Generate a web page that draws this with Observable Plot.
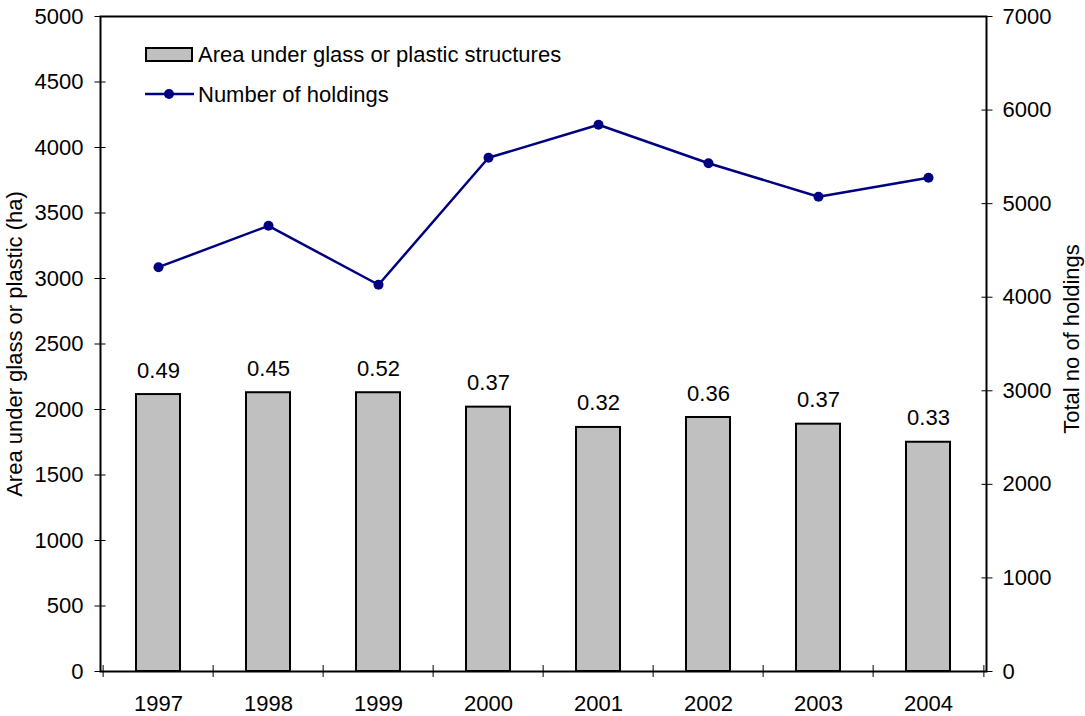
<!DOCTYPE html>
<html><head><meta charset="utf-8">
<script src="https://cdn.jsdelivr.net/npm/d3@7"></script>
<script src="https://cdn.jsdelivr.net/npm/@observablehq/plot@0.6"></script>
<style>
body{margin:0;background:#fff;font-family:"Liberation Sans",Arial,sans-serif;}
#wrap{position:relative;width:1085px;height:716px;}
.lg{position:absolute;font-size:22px;line-height:22px;height:22px;white-space:nowrap;color:#000;}
</style></head><body><div id="wrap"></div>
<script>
const years = ["1997","1998","1999","2000","2001","2002","2003","2004"];
const areaHa = [2114,2128,2128,2018,1863,1939,1888,1750];
const holdings = [4321,4763,4133,5490,5843,5432,5073,5276];
const ratioLabels = ["0.49","0.45","0.52","0.37","0.32","0.36","0.37","0.33"];
const leftTicks = [0,500,1000,1500,2000,2500,3000,3500,4000,4500,5000];
const rightTicks = [0,1000,2000,3000,4000,5000,6000,7000];
const leftMax = 5000, rightMax = 7000;
const barLabel = "Area under glass or plastic structures";
const lineLabel = "Number of holdings";
const leftTitle = "Area under glass or plastic (ha)";
const rightTitle = "Total no of holdings";

const rows = years.map((y,i)=>({year:y, area:areaHa[i], scaled:holdings[i]*leftMax/rightMax, ratio:ratioLabels[i]}));
const W=1085,H=716,mL=100,mR=99,mT=16,mB=45;
const step=(W-mL-mR)/years.length;
const font = "Liberation Sans, Arial, sans-serif";
const fs = 22;

const chart = Plot.plot({
  width:W,height:H,marginLeft:mL,marginRight:mR,marginTop:mT,marginBottom:mB,
  style:{fontFamily:font,fontSize:fs+"px",background:"#fff",color:"#000",overflow:"visible"},
  x:{type:"band",domain:years,padding:0},
  y:{domain:[0,leftMax]},
  marks:[
    Plot.barY(rows,{x:"year",y:"area",fill:"#c0c0c0",stroke:"#000",strokeWidth:2,insetLeft:33,insetRight:33}),
    Plot.frame({stroke:"#000",strokeWidth:2}),
    Plot.axisY(leftTicks,{anchor:"left",tickSize:11,dx:5.5,tickPadding:11.5,tickFormat:d=>String(d),label:null,fontSize:fs}),
    Plot.axisY(rightTicks.map(v=>v*leftMax/rightMax),{anchor:"right",tickSize:11,dx:-5.5,tickPadding:10.5,tickFormat:d=>String(Math.round(d*rightMax/leftMax)),label:null,fontSize:fs}),
    Plot.axisX(years,{anchor:"bottom",tickSize:12,dy:-6,dx:-step/2,fill:"none",label:null}),
    Plot.axisX([years[years.length-1]],{anchor:"bottom",tickSize:12,dy:-6,dx:step/2,fill:"none",label:null}),
    Plot.axisX(years,{anchor:"bottom",tickSize:0,tickPadding:24,label:null,fontSize:fs}),
    Plot.line(rows,{x:"year",y:"scaled",stroke:"#000080",strokeWidth:2.5}),
    Plot.dot(rows,{x:"year",y:"scaled",r:5,fill:"#000080"}),
    Plot.text(rows,{x:"year",y:"area",text:"ratio",dy:-24,fontSize:fs,fill:"#000"}),
    Plot.text([leftTitle],{frameAnchor:"left",textAnchor:"middle",dx:-86,dy:0,rotate:-90,fontSize:fs,fill:"#000"}),
    Plot.text([rightTitle],{frameAnchor:"right",textAnchor:"middle",dx:85,dy:-5,rotate:-90,fontSize:fs,fill:"#000"})
  ]
});
const wrap=document.getElementById("wrap");
wrap.appendChild(chart);
const sw=document.createElement("div");
sw.style.cssText="position:absolute;left:145px;top:47px;width:48px;height:15px;background:#c0c0c0;border:2px solid #000;box-sizing:border-box;";
wrap.appendChild(sw);
const t1=document.createElement("div");t1.className="lg";t1.style.left="198px";t1.style.top="44px";t1.textContent=barLabel;wrap.appendChild(t1);
const ls=document.createElementNS("http://www.w3.org/2000/svg","svg");
ls.setAttribute("width","50");ls.setAttribute("height","20");
ls.style.cssText="position:absolute;left:145px;top:84px;";
ls.innerHTML='<line x1="0" x2="49" y1="10" y2="10" stroke="#000080" stroke-width="2.5"/><circle cx="24" cy="10" r="5" fill="#000080"/>';
wrap.appendChild(ls);
const t2=document.createElement("div");t2.className="lg";t2.style.left="198px";t2.style.top="84px";t2.textContent=lineLabel;wrap.appendChild(t2);
</script></body></html>
